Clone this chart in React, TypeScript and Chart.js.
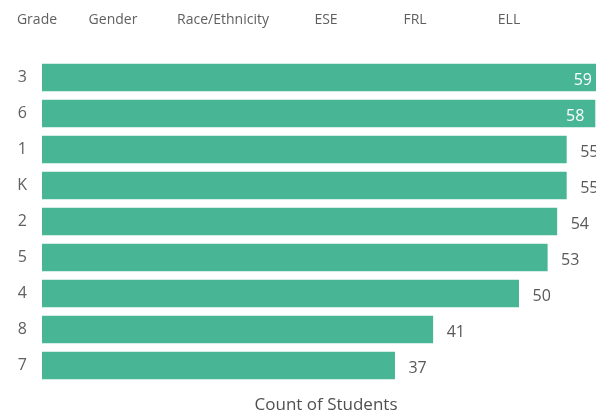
import React, { useEffect, useRef } from "react";
import { Chart, registerables } from "chart.js";

Chart.register(...registerables);

const categories = ["3", "6", "1", "K", "2", "5", "4", "8", "7"];
const counts = [59, 58, 55, 55, 54, 53, 50, 41, 37];
const tabs = ["Grade", "Gender", "Race/Ethnicity", "ESE", "FRL", "ELL"];
const tabCenters = [37, 113, 223, 326, 415, 509];

const FONT = "'Open Sans', 'Noto Sans', sans-serif";
const BAR = "#48B694";
const VISIBLE_RIGHT = 596;

const labelPlugin = {
  id: "barLabels",
  afterDatasetsDraw(chart: any) {
    const ctx = chart.ctx;
    const area = chart.chartArea;
    const meta = chart.getDatasetMeta(0);
    ctx.save();
    ctx.font = `16px ${FONT}`;
    ctx.textBaseline = "middle";
    meta.data.forEach((el: any, i: number) => {
      const v = chart.data.datasets[0].data[i];
      const text = String(v);
      const w = ctx.measureText(text).width;
      if (el.x + 13.5 + w > VISIBLE_RIGHT + 4 && el.x - 11 - w > area.left) {
        const right = Math.min(el.x - 11, VISIBLE_RIGHT - 4);
        ctx.fillStyle = "#ffffff";
        ctx.textAlign = "right";
        ctx.fillText(text, right, el.y + 2.5);
      } else {
        ctx.fillStyle = "#595959";
        ctx.textAlign = "left";
        ctx.fillText(text, el.x + 13.5, el.y + 2.5);
      }
    });
    ctx.restore();
  },
};

export default function App() {
  const ref = useRef<HTMLCanvasElement | null>(null);
  useEffect(() => {
    if (!ref.current) return;
    const chart = new Chart(ref.current, {
      type: "bar",
      data: {
        labels: categories,
        datasets: [
          {
            data: counts,
            backgroundColor: BAR,
            borderWidth: 0,
            categoryPercentage: 0.77,
            barPercentage: 1,
          },
        ],
      },
      options: {
        indexAxis: "y",
        animation: false,
        responsive: false,
        devicePixelRatio: 1,
        layout: { padding: { top: 59.5, left: 0, right: 0, bottom: 0 } },
        plugins: { legend: { display: false }, tooltip: { enabled: false } },
        scales: {
          y: {
            grid: { display: false, drawTicks: false },
            border: { display: false },
            ticks: {
              color: "#606060",
              font: { family: FONT, size: 16 },
              padding: 15,
            },
            afterFit(scale: any) {
              scale.width = 42;
            },
          },
          x: {
            min: 0,
            max: 59.54,
            grid: { display: false, drawTicks: false },
            border: { display: false },
            ticks: { display: false },
            title: {
              display: true,
              text: "Count of Students",
              color: "#505050",
              font: { family: FONT, size: 17, lineHeight: 0.8 },
              padding: { top: 0, bottom: 0 },
            },
            afterFit(scale: any) {
              scale.height = 28.5;
            },
          },
        },
      },
      plugins: [labelPlugin],
    });
    return () => chart.destroy();
  }, []);

  return (
    <div style={{ position: "fixed", left: 0, top: 0, width: 596, height: 412, background: "#fff", overflow: "hidden" }}>
      {tabs.map((t, i) => (
        <div
          key={t}
          style={{
            position: "absolute",
            left: tabCenters[i],
            top: 18,
            transform: "translate(-50%, -50%)",
            fontFamily: FONT,
            fontSize: 14,
            color: "#5f5f5f",
            whiteSpace: "nowrap",
            zIndex: 1,
          }}
        >
          {t}
        </div>
      ))}
      <canvas ref={ref} width={610} height={412} style={{ display: "block" }} />
    </div>
  );
}
